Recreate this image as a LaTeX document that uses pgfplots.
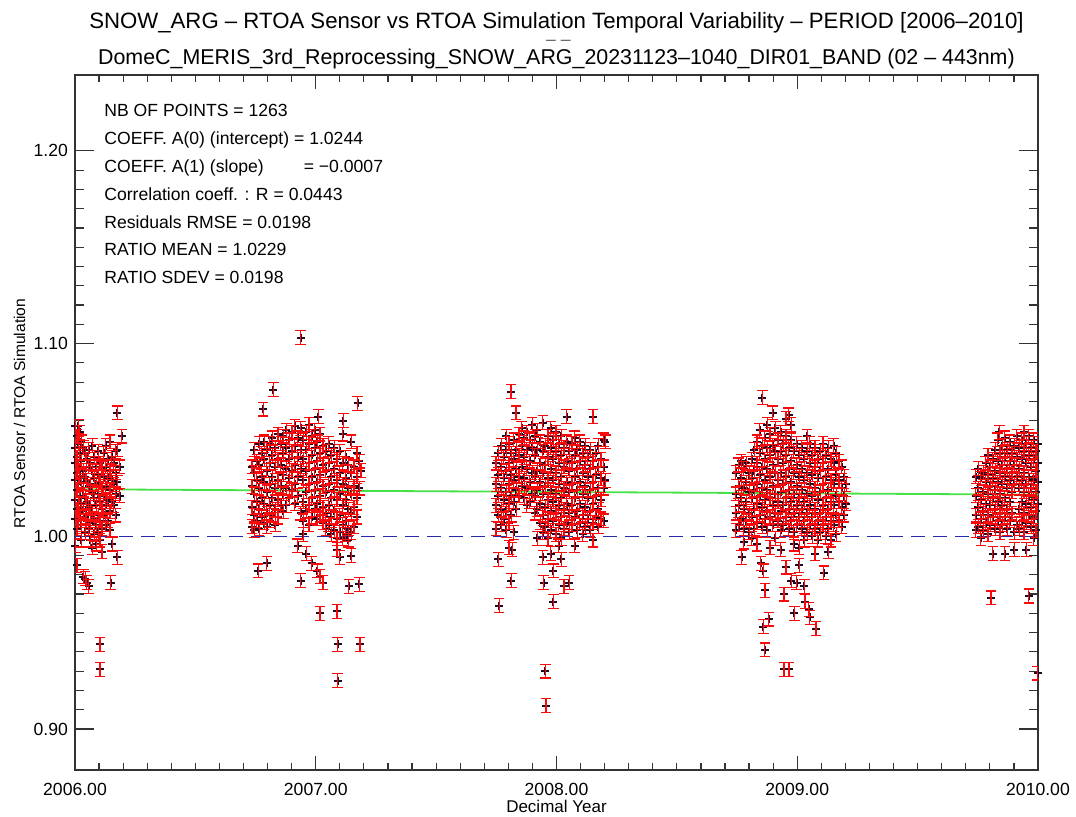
\documentclass[border=0pt]{standalone}
\usepackage{graphicx}
\usepackage{pgfplots}
\usepackage{pgfplotstable}
\pgfplotsset{compat=1.18}
\usepackage{fontspec}
\setmainfont{Liberation Sans}
\definecolor{errred}{RGB}{250,10,10}
\definecolor{markdark}{RGB}{35,8,35}
\definecolor{fitgreen}{RGB}{70,225,70}
\definecolor{refblue}{RGB}{40,40,170}
\pgfplotstableread[row sep=\\]{
x y\\
2006.002 1.057\\ 2006.002 1.046\\ 2006.002 1.038\\ 2006.002 1.029\\ 2006.002 1.019\\ 2006.002 1.009\\ 2006.002 0.995\\
2006.008 1.052\\ 2006.008 1.041\\ 2006.008 1.033\\ 2006.008 1.024\\ 2006.008 1.014\\ 2006.008 1.004\\ 2006.008 0.985\\
2006.014 1.057\\ 2006.014 1.048\\ 2006.014 1.036\\ 2006.014 1.027\\ 2006.014 1.017\\ 2006.014 1.008\\
2006.020 1.054\\ 2006.020 1.043\\ 2006.020 1.031\\ 2006.020 1.021\\ 2006.020 1.012\\
2006.027 1.049\\ 2006.027 1.039\\ 2006.027 1.028\\ 2006.027 1.017\\ 2006.027 1.006\\ 2006.027 0.998\\
2006.035 1.046\\ 2006.035 1.034\\ 2006.035 1.024\\ 2006.035 1.013\\ 2006.035 0.979\\
2006.042 1.043\\ 2006.042 1.031\\ 2006.042 1.020\\ 2006.042 1.010\\ 2006.042 1.002\\ 2006.042 0.978\\
2006.049 1.040\\ 2006.049 1.029\\ 2006.049 1.018\\ 2006.049 1.008\\ 2006.049 0.976\\
2006.057 1.045\\ 2006.057 1.036\\ 2006.057 1.026\\ 2006.057 1.015\\ 2006.057 1.004\\ 2006.057 0.974\\
2006.064 1.038\\ 2006.064 1.027\\ 2006.064 1.016\\ 2006.064 1.007\\ 2006.064 0.998\\
2006.072 1.047\\ 2006.072 1.034\\ 2006.072 1.023\\ 2006.072 1.012\\ 2006.072 0.994\\
2006.080 1.041\\ 2006.080 1.030\\ 2006.080 1.020\\ 2006.080 1.009\\ 2006.080 1.001\\
2006.088 1.036\\ 2006.088 1.027\\ 2006.088 1.016\\ 2006.088 1.006\\ 2006.088 0.996\\
2006.096 1.044\\ 2006.096 1.032\\ 2006.096 1.022\\ 2006.096 1.011\\ 2006.096 1.002\\
2006.104 1.038\\ 2006.104 1.028\\ 2006.104 1.018\\ 2006.104 1.008\\ 2006.104 0.998\\ 2006.104 0.944\\ 2006.104 0.931\\
2006.112 1.035\\ 2006.112 1.025\\ 2006.112 1.014\\ 2006.112 1.004\\ 2006.112 0.992\\
2006.120 1.043\\ 2006.120 1.031\\ 2006.120 1.021\\ 2006.120 1.011\\
2006.128 1.047\\ 2006.128 1.036\\ 2006.128 1.026\\ 2006.128 1.016\\ 2006.128 1.006\\
2006.136 1.040\\ 2006.136 1.030\\ 2006.136 1.019\\ 2006.136 1.008\\
2006.145 1.049\\ 2006.145 1.034\\ 2006.145 1.024\\ 2006.145 1.013\\ 2006.145 1.003\\ 2006.148 0.976\\
2006.153 1.041\\ 2006.153 1.029\\ 2006.153 1.018\\ 2006.155 0.996\\
2006.161 1.038\\ 2006.161 1.027\\ 2006.161 1.016\\
2006.169 1.044\\ 2006.169 1.033\\ 2006.169 1.022\\ 2006.169 1.011\\
2006.176 1.064\\ 2006.176 1.045\\ 2006.176 1.028\\ 2006.176 0.989\\
2006.185 1.036\\ 2006.185 1.021\\
2006.194 1.052\\
2006.735 1.036\\ 2006.735 1.026\\ 2006.735 1.015\\ 2006.735 1.005\\
2006.745 1.045\\ 2006.745 1.033\\ 2006.745 1.022\\ 2006.745 1.011\\ 2006.745 1.003\\
2006.755 1.039\\ 2006.755 1.029\\ 2006.755 1.018\\ 2006.755 1.008\\ 2006.761 0.982\\
2006.765 1.048\\ 2006.765 1.037\\ 2006.765 1.025\\ 2006.765 1.014\\ 2006.765 1.004\\
2006.775 1.043\\ 2006.775 1.031\\ 2006.775 1.020\\ 2006.775 1.010\\ 2006.782 1.066\\
2006.786 1.049\\ 2006.786 1.040\\ 2006.786 1.028\\ 2006.786 1.017\\ 2006.786 1.007\\
2006.797 1.045\\ 2006.797 1.034\\ 2006.797 1.023\\ 2006.797 1.012\\ 2006.797 1.005\\ 2006.797 0.986\\
2006.808 1.048\\ 2006.808 1.038\\ 2006.808 1.027\\ 2006.808 1.016\\ 2006.808 1.008\\
2006.820 1.051\\ 2006.820 1.042\\ 2006.820 1.031\\ 2006.820 1.020\\ 2006.820 1.011\\ 2006.824 1.076\\
2006.832 1.046\\ 2006.832 1.036\\ 2006.832 1.025\\ 2006.832 1.014\\ 2006.832 1.006\\
2006.843 1.053\\ 2006.843 1.040\\ 2006.843 1.029\\ 2006.843 1.019\\ 2006.843 1.010\\
2006.855 1.048\\ 2006.855 1.037\\ 2006.855 1.026\\ 2006.855 1.016\\
2006.866 1.052\\ 2006.866 1.043\\ 2006.866 1.032\\ 2006.866 1.022\\ 2006.866 1.013\\
2006.878 1.055\\ 2006.878 1.046\\ 2006.878 1.035\\ 2006.878 1.025\\ 2006.878 1.016\\
2006.890 1.050\\ 2006.890 1.040\\ 2006.890 1.030\\ 2006.890 1.020\\
2006.901 1.054\\ 2006.901 1.044\\ 2006.901 1.034\\ 2006.901 1.024\\
2006.913 1.057\\ 2006.913 1.047\\ 2006.913 1.037\\ 2006.913 1.027\\ 2006.913 1.017\\
2006.925 1.051\\ 2006.925 1.041\\ 2006.925 1.031\\ 2006.925 1.021\\ 2006.925 0.995\\
2006.937 1.056\\ 2006.937 1.045\\ 2006.937 1.035\\ 2006.937 1.012\\ 2006.937 1.103\\ 2006.937 0.977\\
2006.948 1.050\\ 2006.948 1.040\\ 2006.948 1.029\\ 2006.948 1.018\\ 2006.948 1.008\\ 2006.948 1.001\\
2006.960 1.054\\ 2006.960 1.045\\ 2006.960 1.034\\ 2006.960 1.023\\ 2006.960 1.013\\ 2006.960 0.991\\
2006.972 1.058\\ 2006.972 1.048\\ 2006.972 1.038\\ 2006.972 1.027\\ 2006.972 1.016\\ 2006.972 1.006\\
2006.983 1.052\\ 2006.983 1.042\\ 2006.983 1.031\\ 2006.983 1.020\\ 2006.983 1.010\\ 2006.983 0.986\\
2006.995 1.055\\ 2006.995 1.046\\ 2006.995 1.035\\ 2006.995 1.024\\ 2006.995 1.014\\
2007.007 1.049\\ 2007.007 1.039\\ 2007.007 1.028\\ 2007.007 1.017\\ 2007.007 1.009\\ 2007.007 0.982\\ 2007.011 1.062\\
2007.018 1.053\\ 2007.018 1.043\\ 2007.018 1.032\\ 2007.018 1.021\\ 2007.018 1.011\\ 2007.018 0.979\\ 2007.018 0.960\\
2007.030 1.047\\ 2007.030 1.037\\ 2007.030 1.026\\ 2007.030 1.015\\ 2007.030 1.007\\ 2007.030 0.976\\
2007.042 1.044\\ 2007.042 1.034\\ 2007.042 1.023\\ 2007.042 1.012\\ 2007.042 1.004\\
2007.053 1.048\\ 2007.053 1.038\\ 2007.053 1.027\\ 2007.053 1.016\\ 2007.053 1.006\\
2007.065 1.042\\ 2007.065 1.031\\ 2007.065 1.020\\ 2007.065 1.010\\ 2007.065 1.001\\
2007.077 1.046\\ 2007.077 1.035\\ 2007.077 1.024\\ 2007.077 1.013\\ 2007.077 1.003\\
2007.088 1.040\\ 2007.088 1.029\\ 2007.088 1.019\\ 2007.088 1.009\\ 2007.088 0.999\\ 2007.088 0.993\\ 2007.088 0.961\\ 2007.091 0.944\\ 2007.091 0.925\\
2007.100 1.044\\ 2007.100 1.033\\ 2007.100 1.022\\ 2007.100 1.011\\ 2007.100 1.002\\ 2007.100 0.989\\
2007.112 1.053\\ 2007.112 1.038\\ 2007.112 1.027\\ 2007.112 1.016\\ 2007.112 1.006\\ 2007.112 0.999\\ 2007.115 1.060\\
2007.124 1.041\\ 2007.124 1.030\\ 2007.124 1.019\\ 2007.124 1.008\\ 2007.124 1.001\\
2007.136 1.037\\ 2007.136 1.025\\ 2007.136 1.014\\ 2007.136 1.004\\ 2007.136 0.998\\ 2007.137 0.974\\
2007.147 1.049\\ 2007.147 1.033\\ 2007.147 1.022\\ 2007.147 1.012\\ 2007.147 1.002\\ 2007.147 0.990\\
2007.159 1.036\\ 2007.159 1.026\\ 2007.159 1.015\\ 2007.159 1.005\\
2007.171 1.043\\ 2007.171 1.031\\ 2007.171 1.020\\ 2007.171 1.010\\ 2007.174 1.069\\
2007.181 1.039\\ 2007.181 1.025\\ 2007.181 0.975\\ 2007.184 0.944\\
2007.188 1.034\\
2007.749 1.038\\ 2007.749 1.027\\ 2007.749 1.016\\ 2007.749 1.004\\
2007.759 1.043\\ 2007.759 1.032\\ 2007.759 1.021\\ 2007.759 1.011\\ 2007.759 0.988\\ 2007.762 0.964\\
2007.770 1.047\\ 2007.770 1.036\\ 2007.770 1.025\\ 2007.770 1.014\\ 2007.770 1.006\\
2007.781 1.041\\ 2007.781 1.030\\ 2007.781 1.019\\ 2007.781 1.009\\
2007.792 1.052\\ 2007.792 1.045\\ 2007.792 1.034\\ 2007.792 1.023\\ 2007.792 1.013\\ 2007.792 1.003\\
2007.803 1.048\\ 2007.803 1.038\\ 2007.803 1.027\\ 2007.803 1.017\\ 2007.803 1.007\\ 2007.803 0.994\\
2007.811 1.075\\ 2007.813 1.043\\ 2007.813 1.032\\ 2007.813 1.021\\ 2007.813 1.011\\ 2007.813 0.977\\ 2007.816 0.993\\
2007.823 1.050\\ 2007.823 1.040\\ 2007.823 1.029\\ 2007.823 1.018\\ 2007.823 1.002\\
2007.832 1.064\\ 2007.833 1.045\\ 2007.833 1.035\\ 2007.833 1.024\\ 2007.833 1.014\\
2007.844 1.053\\ 2007.844 1.042\\ 2007.844 1.031\\ 2007.844 1.021\\
2007.855 1.056\\ 2007.855 1.047\\ 2007.855 1.036\\ 2007.855 1.026\\
2007.866 1.051\\ 2007.866 1.041\\ 2007.866 1.030\\ 2007.866 1.020\\
2007.877 1.054\\ 2007.877 1.045\\ 2007.877 1.035\\ 2007.877 1.025\\ 2007.877 1.016\\
2007.888 1.050\\ 2007.888 1.039\\ 2007.888 1.028\\ 2007.888 1.018\\
2007.899 1.058\\ 2007.899 1.046\\ 2007.899 1.033\\ 2007.899 1.022\\
2007.910 1.052\\ 2007.910 1.042\\ 2007.910 1.031\\ 2007.910 1.021\\ 2007.910 1.012\\
2007.921 1.055\\ 2007.921 1.045\\ 2007.921 1.034\\ 2007.921 1.024\\ 2007.921 1.014\\ 2007.921 0.999\\
2007.932 1.049\\ 2007.932 1.038\\ 2007.932 1.028\\ 2007.932 1.017\\ 2007.932 1.007\\
2007.943 1.059\\ 2007.943 1.044\\ 2007.943 1.033\\ 2007.943 1.022\\ 2007.943 1.011\\ 2007.943 1.002\\ 2007.943 0.989\\ 2007.946 0.976\\
2007.954 1.047\\ 2007.954 1.037\\ 2007.954 1.026\\ 2007.954 1.015\\ 2007.954 1.005\\ 2007.954 0.930\\ 2007.956 0.912\\
2007.965 1.052\\ 2007.965 1.041\\ 2007.965 1.030\\ 2007.965 1.019\\ 2007.965 1.009\\ 2007.965 0.999\\
2007.976 1.056\\ 2007.976 1.046\\ 2007.976 1.035\\ 2007.976 1.024\\ 2007.976 1.013\\ 2007.976 1.003\\ 2007.976 0.991\\
2007.987 1.050\\ 2007.987 1.040\\ 2007.987 1.029\\ 2007.987 1.018\\ 2007.987 1.008\\ 2007.987 0.982\\ 2007.987 0.966\\
2007.998 1.054\\ 2007.998 1.044\\ 2007.998 1.033\\ 2007.998 1.022\\ 2007.998 1.012\\ 2007.998 1.001\\
2008.009 1.048\\ 2008.009 1.038\\ 2008.009 1.027\\ 2008.009 1.016\\ 2008.009 1.006\\ 2008.009 0.995\\
2008.020 1.052\\ 2008.020 1.042\\ 2008.020 1.031\\ 2008.020 1.020\\ 2008.020 1.010\\ 2008.020 0.999\\ 2008.020 0.988\\
2008.031 1.046\\ 2008.031 1.036\\ 2008.031 1.025\\ 2008.031 1.014\\ 2008.031 1.004\\ 2008.031 0.974\\
2008.042 1.062\\ 2008.042 1.049\\ 2008.042 1.039\\ 2008.042 1.028\\ 2008.042 1.017\\ 2008.042 1.007\\
2008.053 1.044\\ 2008.053 1.034\\ 2008.053 1.023\\ 2008.053 1.012\\ 2008.053 1.002\\ 2008.053 0.976\\
2008.064 1.048\\ 2008.064 1.038\\ 2008.064 1.027\\ 2008.064 1.016\\ 2008.064 1.006\\
2008.075 1.051\\ 2008.075 1.042\\ 2008.075 1.031\\ 2008.075 1.020\\ 2008.075 1.010\\ 2008.075 0.995\\
2008.086 1.045\\ 2008.086 1.035\\ 2008.086 1.024\\ 2008.086 1.013\\ 2008.086 1.003\\
2008.097 1.049\\ 2008.097 1.039\\ 2008.097 1.028\\ 2008.097 1.017\\ 2008.097 1.007\\
2008.108 1.043\\ 2008.108 1.033\\ 2008.108 1.022\\ 2008.108 1.011\\ 2008.108 1.001\\
2008.119 1.047\\ 2008.119 1.037\\ 2008.119 1.026\\ 2008.119 1.015\\ 2008.119 1.005\\
2008.130 1.041\\ 2008.130 1.031\\ 2008.130 1.020\\ 2008.130 1.009\\
2008.141 1.045\\ 2008.141 1.035\\ 2008.141 1.024\\ 2008.141 1.013\\ 2008.141 1.003\\
2008.152 1.062\\ 2008.152 1.039\\ 2008.152 1.028\\ 2008.152 1.017\\ 2008.152 1.007\\ 2008.152 0.998\\
2008.163 1.043\\ 2008.163 1.032\\ 2008.163 1.021\\ 2008.163 1.010\\
2008.174 1.047\\ 2008.174 1.036\\ 2008.174 1.025\\ 2008.174 1.014\\ 2008.174 1.005\\
2008.185 1.040\\ 2008.185 1.030\\ 2008.185 1.019\\ 2008.185 1.009\\
2008.196 1.050\\ 2008.196 1.036\\ 2008.196 1.025\\ 2008.196 1.008\\
2008.203 1.049\\ 2008.203 1.029\\
2008.745 1.033\\ 2008.745 1.022\\ 2008.745 1.012\\ 2008.745 1.003\\
2008.756 1.037\\ 2008.756 1.026\\ 2008.756 1.016\\ 2008.756 1.006\\
2008.767 1.039\\ 2008.767 1.030\\ 2008.767 1.020\\ 2008.767 1.009\\ 2008.769 0.989\\
2008.778 1.035\\ 2008.778 1.025\\ 2008.778 1.014\\ 2008.778 1.004\\ 2008.778 0.997\\
2008.789 1.038\\ 2008.789 1.028\\ 2008.789 1.018\\ 2008.789 1.008\\
2008.800 1.033\\ 2008.800 1.023\\ 2008.800 1.012\\ 2008.800 1.002\\
2008.811 1.040\\ 2008.811 1.030\\ 2008.811 1.020\\ 2008.811 1.010\\ 2008.811 0.999\\
2008.822 1.045\\ 2008.822 1.034\\ 2008.822 1.024\\ 2008.822 1.014\\ 2008.822 1.004\\
2008.833 1.049\\ 2008.833 1.038\\ 2008.833 1.027\\ 2008.833 1.017\\ 2008.833 1.007\\ 2008.833 0.996\\
2008.844 1.055\\ 2008.844 1.043\\ 2008.844 1.032\\ 2008.844 1.021\\ 2008.844 1.011\\ 2008.849 0.986\\
2008.855 1.072\\ 2008.855 1.047\\ 2008.855 1.036\\ 2008.855 1.025\\ 2008.855 1.015\\ 2008.855 1.005\\ 2008.859 0.982\\ 2008.859 0.953\\
2008.865 1.051\\ 2008.865 1.040\\ 2008.865 1.029\\ 2008.865 1.019\\ 2008.865 1.009\\ 2008.865 0.941\\ 2008.866 0.972\\
2008.876 1.058\\ 2008.876 1.046\\ 2008.876 1.035\\ 2008.876 1.024\\ 2008.876 1.013\\ 2008.876 1.003\\ 2008.882 0.957\\
2008.887 1.053\\ 2008.887 1.042\\ 2008.887 1.031\\ 2008.887 1.020\\ 2008.887 1.010\\ 2008.887 0.994\\
2008.898 1.064\\ 2008.898 1.047\\ 2008.898 1.037\\ 2008.898 1.026\\ 2008.898 1.016\\ 2008.898 1.006\\
2008.909 1.056\\ 2008.909 1.044\\ 2008.909 1.033\\ 2008.909 1.022\\ 2008.909 1.012\\ 2008.909 0.999\\
2008.920 1.050\\ 2008.920 1.040\\ 2008.920 1.029\\ 2008.920 1.018\\ 2008.920 1.008\\
2008.931 1.054\\ 2008.931 1.044\\ 2008.931 1.033\\ 2008.931 1.023\\ 2008.931 1.013\\ 2008.931 1.003\\ 2008.931 0.993\\
2008.942 1.048\\ 2008.942 1.038\\ 2008.942 1.027\\ 2008.942 1.016\\ 2008.942 1.006\\ 2008.945 0.970\\ 2008.945 0.931\\
2008.953 1.061\\ 2008.953 1.052\\ 2008.953 1.042\\ 2008.953 1.031\\ 2008.953 1.020\\ 2008.953 1.010\\ 2008.953 0.984\\
2008.964 1.063\\ 2008.964 1.046\\ 2008.964 1.035\\ 2008.964 1.024\\ 2008.964 1.014\\ 2008.964 1.004\\ 2008.966 0.931\\
2008.975 1.058\\ 2008.975 1.050\\ 2008.975 1.039\\ 2008.975 1.028\\ 2008.975 1.018\\ 2008.975 1.008\\ 2008.975 0.977\\
2008.986 1.044\\ 2008.986 1.033\\ 2008.986 1.022\\ 2008.986 1.012\\ 2008.986 1.002\\ 2008.986 0.996\\ 2008.988 0.960\\
2008.997 1.048\\ 2008.997 1.037\\ 2008.997 1.026\\ 2008.997 1.016\\ 2008.997 1.006\\ 2008.997 0.976\\
2009.008 1.042\\ 2009.008 1.031\\ 2009.008 1.020\\ 2009.008 1.010\\ 2009.008 0.994\\ 2009.008 0.985\\
2009.019 1.046\\ 2009.019 1.035\\ 2009.019 1.024\\ 2009.019 1.014\\ 2009.019 1.004\\
2009.030 1.040\\ 2009.030 1.029\\ 2009.030 1.018\\ 2009.030 1.008\\ 2009.030 0.998\\ 2009.030 0.974\\ 2009.032 0.966\\
2009.041 1.052\\ 2009.041 1.044\\ 2009.041 1.033\\ 2009.041 1.022\\ 2009.041 1.012\\ 2009.041 1.002\\ 2009.048 0.962\\
2009.052 1.048\\ 2009.052 1.038\\ 2009.052 1.027\\ 2009.052 1.016\\ 2009.052 1.006\\ 2009.052 0.958\\
2009.063 1.042\\ 2009.063 1.032\\ 2009.063 1.021\\ 2009.063 1.010\\ 2009.063 1.000\\
2009.074 1.046\\ 2009.074 1.036\\ 2009.074 1.025\\ 2009.074 1.014\\ 2009.074 1.004\\ 2009.074 0.991\\ 2009.078 0.952\\
2009.085 1.040\\ 2009.085 1.030\\ 2009.085 1.019\\ 2009.085 1.008\\ 2009.085 0.998\\
2009.096 1.044\\ 2009.096 1.034\\ 2009.096 1.023\\ 2009.096 1.012\\ 2009.096 1.002\\
2009.107 1.048\\ 2009.107 1.038\\ 2009.107 1.027\\ 2009.107 1.016\\ 2009.107 1.006\\ 2009.110 0.981\\
2009.118 1.042\\ 2009.118 1.031\\ 2009.118 1.020\\ 2009.118 1.010\\ 2009.118 1.000\\
2009.129 1.046\\ 2009.129 1.035\\ 2009.129 1.024\\ 2009.129 1.014\\ 2009.129 1.004\\ 2009.129 0.992\\
2009.140 1.040\\ 2009.140 1.029\\ 2009.140 1.018\\ 2009.140 1.008\\ 2009.140 0.998\\
2009.151 1.047\\ 2009.151 1.038\\ 2009.151 1.027\\ 2009.151 1.016\\ 2009.151 1.006\\
2009.162 1.043\\ 2009.162 1.032\\ 2009.162 1.021\\ 2009.162 1.011\\ 2009.162 1.001\\
2009.173 1.039\\ 2009.173 1.029\\ 2009.173 1.018\\ 2009.173 1.008\\
2009.184 1.036\\ 2009.184 1.025\\ 2009.184 1.015\\ 2009.184 1.005\\
2009.195 1.031\\ 2009.195 1.021\\ 2009.195 1.011\\
2009.203 1.027\\ 2009.203 1.017\\
2009.742 1.031\\ 2009.742 1.021\\ 2009.742 1.011\\ 2009.742 1.003\\
2009.752 1.035\\ 2009.752 1.025\\ 2009.752 1.015\\ 2009.752 1.005\\
2009.762 1.030\\ 2009.762 1.019\\ 2009.762 1.009\\ 2009.762 0.999\\
2009.772 1.033\\ 2009.772 1.023\\ 2009.772 1.013\\ 2009.772 1.003\\
2009.782 1.038\\ 2009.782 1.028\\ 2009.782 1.017\\ 2009.782 1.007\\
2009.792 1.042\\ 2009.792 1.032\\ 2009.792 1.022\\ 2009.792 1.011\\ 2009.792 1.001\\
2009.802 1.036\\ 2009.802 1.026\\ 2009.802 1.016\\ 2009.802 1.006\\ 2009.805 0.968\\
2009.812 1.040\\ 2009.812 1.030\\ 2009.812 1.020\\ 2009.812 1.010\\ 2009.812 0.991\\
2009.822 1.045\\ 2009.822 1.034\\ 2009.822 1.024\\ 2009.822 1.014\\ 2009.822 1.004\\
2009.832 1.050\\ 2009.832 1.039\\ 2009.832 1.028\\ 2009.832 1.018\\ 2009.832 1.008\\
2009.840 1.054\\ 2009.842 1.043\\ 2009.842 1.033\\ 2009.842 1.022\\ 2009.842 1.012\\ 2009.842 1.002\\
2009.852 1.047\\ 2009.852 1.037\\ 2009.852 1.027\\ 2009.852 1.016\\ 2009.852 1.006\\
2009.862 1.051\\ 2009.862 1.041\\ 2009.862 1.031\\ 2009.862 1.020\\ 2009.862 1.010\\ 2009.862 0.991\\
2009.872 1.045\\ 2009.872 1.035\\ 2009.872 1.025\\ 2009.872 1.014\\ 2009.872 1.004\\
2009.882 1.049\\ 2009.882 1.039\\ 2009.882 1.029\\ 2009.882 1.018\\ 2009.882 1.008\\
2009.892 1.043\\ 2009.892 1.033\\ 2009.892 1.023\\ 2009.892 1.012\\
2009.902 1.047\\ 2009.902 1.037\\ 2009.902 1.027\\ 2009.902 1.002\\ 2009.902 0.993\\
2009.912 1.052\\ 2009.912 1.041\\ 2009.912 1.031\\ 2009.912 1.006\\
2009.922 1.046\\ 2009.922 1.035\\ 2009.922 1.025\\ 2009.922 1.014\\ 2009.922 1.004\\
2009.932 1.050\\ 2009.932 1.040\\ 2009.932 1.029\\ 2009.932 1.018\\ 2009.932 1.008\\
2009.942 1.054\\ 2009.942 1.044\\ 2009.942 1.033\\ 2009.942 1.023\\ 2009.942 1.012\\ 2009.942 1.002\\
2009.952 1.048\\ 2009.952 1.038\\ 2009.952 1.027\\ 2009.952 1.017\\ 2009.952 1.007\\ 2009.952 0.993\\
2009.962 1.052\\ 2009.962 1.042\\ 2009.962 1.031\\ 2009.962 1.021\\ 2009.962 1.011\\ 2009.962 0.969\\
2009.972 1.046\\ 2009.972 1.036\\ 2009.972 1.025\\ 2009.972 1.015\\ 2009.972 1.005\\
2009.982 1.050\\ 2009.982 1.040\\ 2009.982 1.029\\ 2009.982 1.019\\ 2009.982 1.009\\ 2009.982 0.999\\
2009.992 1.044\\ 2009.992 1.034\\ 2009.992 1.023\\ 2009.992 1.013\\ 2009.992 1.003\\
2009.998 1.048\\ 2009.998 1.038\\ 2009.998 1.028\\ 2009.998 1.017\\ 2009.998 0.929\\
}\ratiodata
\begin{document}
\begin{tikzpicture}
\path[use as bounding box] (-37.5pt,-23.5pt) rectangle (500.5pt,385pt);
\begin{axis}[
 at={(0,0)}, anchor=south west,
 scale only axis, width=481.5pt, height=347.5pt,
 xmin=2006, xmax=2010, ymin=0.8787, ymax=1.2394,
 xtick={2006,2007,2008,2009,2010}, ytick={0.9,1.0,1.1,1.2},
 minor x tick num=9, minor y tick num=9,
 tick align=inside,
 xtick style={/pgfplots/major tick length=7pt, /pgfplots/minor tick length=3.5pt},
 ytick style={/pgfplots/major tick length=9.5pt, /pgfplots/minor tick length=4.75pt},
 axis line style={line width=0.7pt, black!80},
 every tick/.append style={black!80, line width=0.6pt},
 tick label style={font=\fontsize{8.8}{10}\selectfont},
 /pgf/number format/assume math mode=true,
 xticklabel style={yshift=-3pt, /pgf/number format/.cd, fixed, fixed zerofill, precision=2, 1000 sep={}},
 yticklabel style={/pgf/number format/.cd, fixed, fixed zerofill, precision=2},
 xlabel={Decimal Year}, ylabel={RTOA Sensor / RTOA Simulation},
 xlabel style={font=\fontsize{8.5}{9}\selectfont, at={(axis description cs:0.5,-0.0525)}, anchor=center},
 ylabel style={font=\fontsize{7.8}{9}\selectfont, at={(axis description cs:-0.0576,0.513)}, anchor=center},
 clip mode=individual,
]
\addplot[refblue, line width=0.75pt, dash pattern=on 7pt off 4pt] coordinates {(2006,1.0) (2010,1.0)};
\addplot[fitgreen, line width=0.9pt] coordinates {(2006,1.0244) (2010,1.0216)};
\addplot[only marks, mark=+, mark size=2pt, mark options={draw=markdark, line width=1pt}] table[x=x, y=y] {\ratiodata};
\addplot[draw=none, no markers,
 error bars/.cd, y dir=both, y fixed=0.0036,
 error bar style={draw=errred, line width=0.6pt},
 error mark options={rotate=90, draw=errred, mark size=2.6pt, line width=0.6pt}]
 table[x=x, y=y] {\ratiodata};
\node[anchor=base, inner sep=0pt, font=\fontsize{11.1}{13}\selectfont] at (rel axis cs:0.5,1.0676) {SNOW\_ARG – RTOA Sensor vs RTOA Simulation Temporal Variability – PERIOD [2006–2010]};
\node[anchor=base, inner sep=0pt] at (rel axis cs:0.502,1.0460) {\scalebox{1.6}[1]{\fontsize{5.5}{6}\selectfont – –}};
\node[anchor=base, inner sep=0pt, font=\fontsize{10.7}{13}\selectfont] at (rel axis cs:0.5,1.0144) {DomeC\_MERIS\_3rd\_Reprocessing\_SNOW\_ARG\_20231123–1040\_DIR01\_BAND (02 – 443nm)};
\begin{scope}[every node/.style={anchor=base west, font=\fontsize{8.8}{10}\selectfont, inner sep=0pt}]
\node at (rel axis cs:0.0301,0.9396) {NB OF POINTS = 1263};
\node at (rel axis cs:0.0301,0.8996) {COEFF. A(0) (intercept) = 1.0244};
\node at (rel axis cs:0.0301,0.8596) {COEFF. A(1) (slope)\hspace{20pt}= −0.0007};
\node at (rel axis cs:0.0301,0.8196) {Correlation coeff. : R = 0.0443};
\node at (rel axis cs:0.0301,0.7796) {Residuals RMSE = 0.0198};
\node at (rel axis cs:0.0301,0.7396) {RATIO MEAN = 1.0229};
\node at (rel axis cs:0.0301,0.6996) {RATIO SDEV = 0.0198};
\end{scope}
\end{axis}
\end{tikzpicture}
\end{document}
